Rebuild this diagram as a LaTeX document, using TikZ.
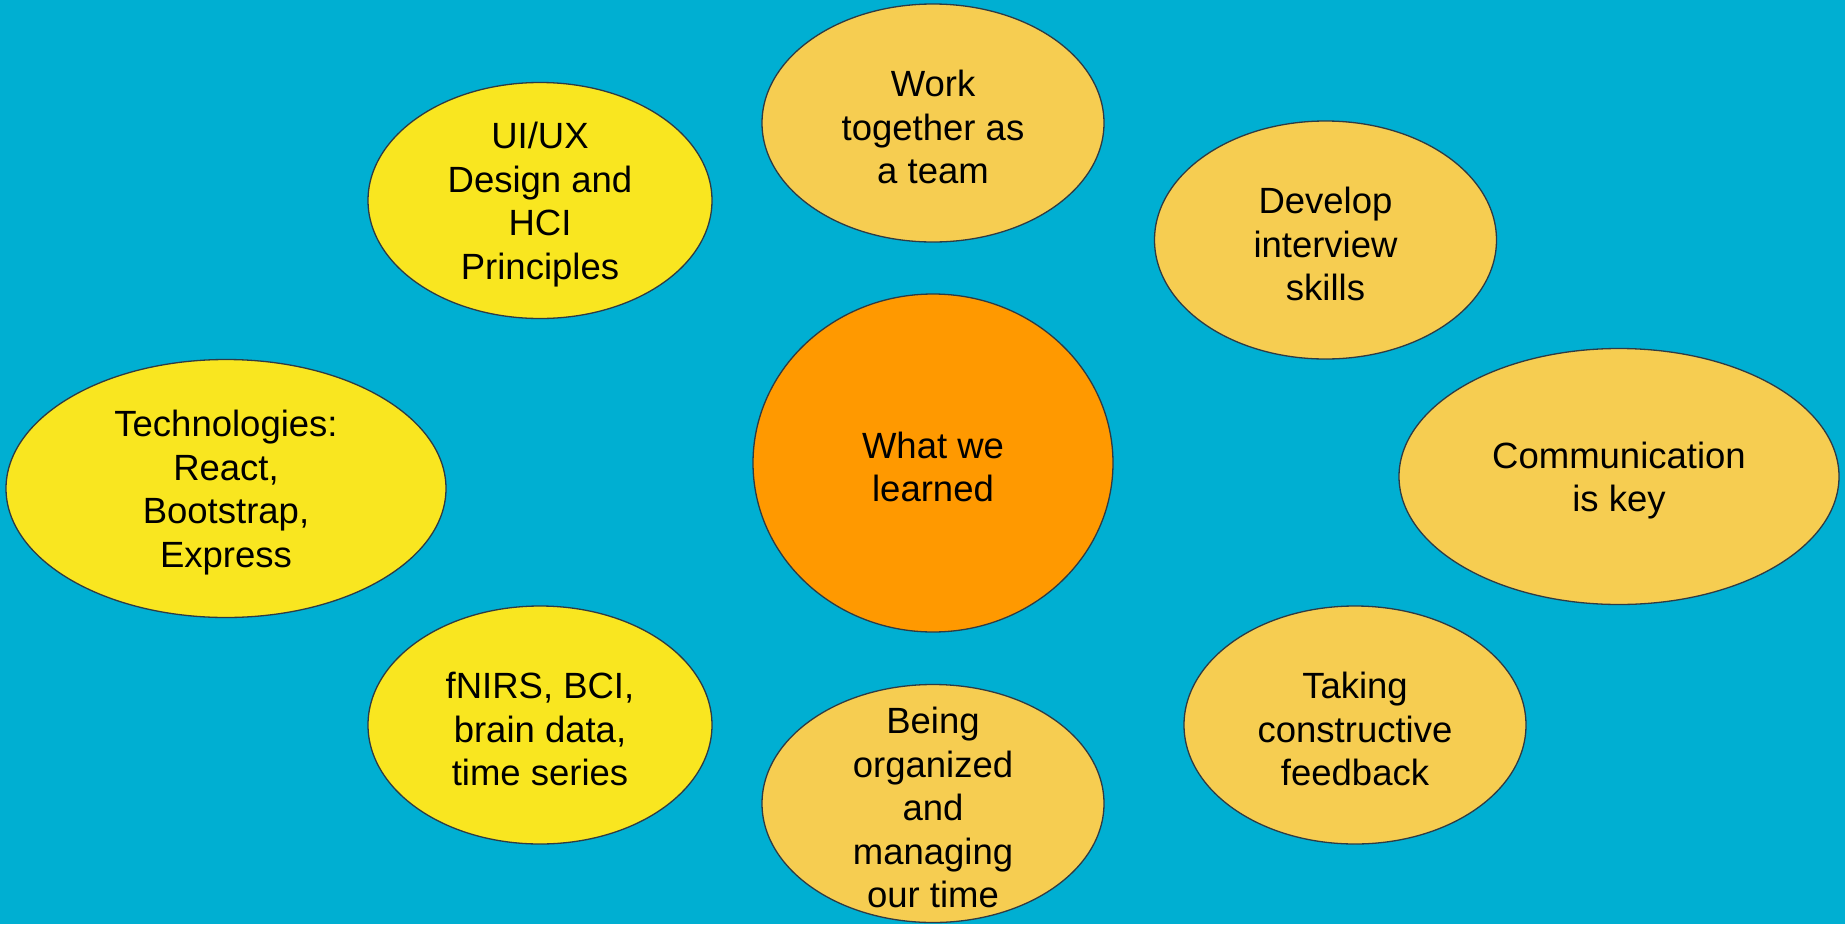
\documentclass[tikz,border=0pt]{standalone}
\usepackage{fontspec}
\setmainfont{Liberation Sans}
\definecolor{bgblue}{HTML}{00AFD2}
\definecolor{tyellow}{HTML}{F9E620}
\definecolor{softorange}{HTML}{F6CD51}
\definecolor{hotorange}{HTML}{FF9900}
\definecolor{rimcol}{HTML}{2E3B45}
\tikzset{
  blob/.style={draw=rimcol, line width=1.3pt},
  txt/.style={align=center, inner sep=0pt, yshift=-4pt, font=\fontsize{36.5}{43.5}\selectfont, text=black}
}
\begin{document}
\begin{tikzpicture}[x=1pt,y=-1pt]
\fill[bgblue] (0,0) rectangle (1845,924);
\useasboundingbox (0,0) rectangle (1845,924);
% ellipses
\path[blob, fill=tyellow] (540,200.5) ellipse [x radius=172, y radius=118];
\path[blob, fill=softorange] (933,123) ellipse [x radius=171, y radius=119];
\path[blob, fill=softorange] (1325.5,240) ellipse [x radius=171, y radius=119];
\path[blob, fill=tyellow] (226,488.5) ellipse [x radius=220, y radius=129];
\path[blob, fill=hotorange] (933,463) ellipse [x radius=180, y radius=169];
\path[blob, fill=softorange] (1619,476.5) ellipse [x radius=220, y radius=128];
\path[blob, fill=tyellow] (540,725) ellipse [x radius=172, y radius=119];
\path[blob, fill=softorange] (933,803.5) ellipse [x radius=171, y radius=119];
\path[blob, fill=softorange] (1355,725) ellipse [x radius=171, y radius=119];
% texts
\node[txt] (uiux) at (540,200.5) {UI/UX\\Design and\\HCI\\Principles};
\node[txt] (team) at (933,123) {Work\\together as\\a team};
\node[txt] (interview) at (1325.5,240) {Develop\\interview\\skills};
\node[txt] (tech) at (226,488.5) {Technologies:\\React,\\Bootstrap,\\Express};
\node[txt] (learned) at (933,463) {What we\\learned};
\node[txt] (comm) at (1619,476.5) {Communication\\is key};
\node[txt] (fnirs) at (540,725) {fNIRS, BCI,\\brain data,\\time series};
\node[txt] (organized) at (933,803.5) {Being\\organized\\and\\managing\\our time};
\node[txt] (feedback) at (1355,725) {Taking\\constructive\\feedback};
\end{tikzpicture}
\end{document}
